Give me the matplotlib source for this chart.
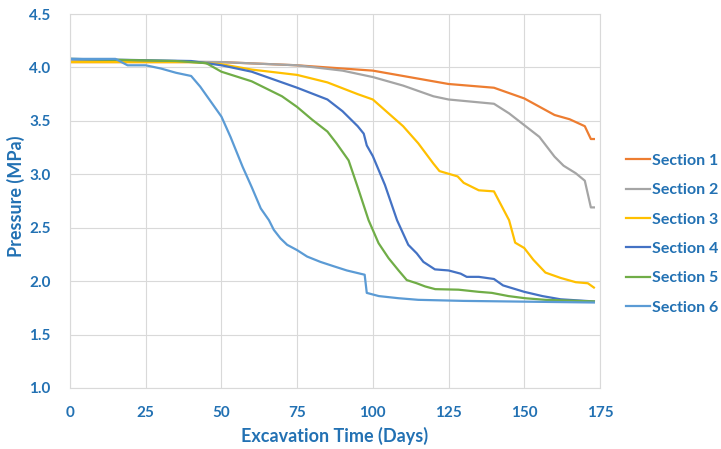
import matplotlib
matplotlib.use('Agg')
import matplotlib.pyplot as plt

# Pore pressure per section over excavation time
section_names = ['Section 1', 'Section 2', 'Section 3', 'Section 4', 'Section 5', 'Section 6']
section_colors = ['#ED7D31', '#A5A5A5', '#FFC000', '#4472C4', '#70AD47', '#5B9BD5']

days_1 = [0, 25, 50, 75, 90, 95, 100, 110, 125, 140, 150, 160, 165, 170, 172, 173]
pres_1 = [4.05, 4.05, 4.05, 4.02, 3.99, 3.98, 3.97, 3.92, 3.845, 3.81, 3.71, 3.555, 3.515, 3.45, 3.33, 3.33]

days_2 = [0, 25, 50, 75, 90, 95, 100, 110, 120, 125, 140, 145, 150, 155, 160, 163, 167, 170, 172, 173]
pres_2 = [4.06, 4.06, 4.05, 4.02, 3.97, 3.94, 3.91, 3.83, 3.73, 3.70, 3.66, 3.57, 3.46, 3.35, 3.165, 3.08, 3.01, 2.94, 2.69, 2.69]

days_3 = [0, 40, 50, 60, 75, 85, 95, 100, 110, 115, 120, 122, 128, 130, 135, 140,
          145, 147, 150, 153, 157, 162, 167, 171, 173]
pres_3 = [4.05, 4.05, 4.03, 3.98, 3.93, 3.86, 3.75, 3.70, 3.45, 3.29, 3.10, 3.03, 2.98, 2.92, 2.85, 2.84,
          2.57, 2.36, 2.31, 2.20, 2.08, 2.03, 1.99, 1.98, 1.94]

days_4 = [0, 40, 50, 60, 75, 85, 90, 95, 97, 98, 100, 104, 108, 111.7, 114.5, 116.7, 120.5, 125,
          129, 131, 135, 140, 143, 150, 156, 162, 173]
pres_4 = [4.08, 4.06, 4.02, 3.96, 3.81, 3.70, 3.59, 3.45, 3.38, 3.27, 3.17, 2.90, 2.57, 2.34, 2.26, 2.18, 2.11, 2.10,
          2.07, 2.04, 2.04, 2.02, 1.96, 1.90, 1.86, 1.83, 1.81]

days_5 = [0, 35, 45, 50, 60, 70, 75, 80, 85, 88, 92, 95, 98.6, 101.9, 105.2, 108.5, 111.2, 114.5,
          117.3, 120.6, 128.3, 134.9, 139.3, 144.8, 150.3, 156.9, 173]
pres_5 = [4.08, 4.06, 4.04, 3.96, 3.87, 3.73, 3.63, 3.51, 3.40, 3.29, 3.13, 2.88, 2.57, 2.355, 2.215, 2.10, 2.01, 1.98,
          1.95, 1.925, 1.92, 1.90, 1.89, 1.86, 1.84, 1.825, 1.81]

days_6 = [0, 15, 19, 25, 30, 35, 40, 43, 47, 50, 53, 57, 60, 63, 65.7, 67.3, 69.5, 71.7, 75, 78.3,
          82.7, 87, 91.4, 95.8, 97.3, 98, 102, 108.5, 115, 130, 173]
pres_6 = [4.08, 4.08, 4.02, 4.02, 3.99, 3.95, 3.92, 3.82, 3.66, 3.54, 3.35, 3.07, 2.88, 2.68, 2.57, 2.48, 2.40, 2.34, 2.29, 2.23,
          2.18, 2.14, 2.10, 2.07, 2.06, 1.89, 1.86, 1.84, 1.825, 1.815, 1.80]

all_days = [days_1, days_2, days_3, days_4, days_5, days_6]
all_pres = [pres_1, pres_2, pres_3, pres_4, pres_5, pres_6]

x_ticks = [0, 25, 50, 75, 100, 125, 150, 175]
y_ticks = [1.0, 1.5, 2.0, 2.5, 3.0, 3.5, 4.0, 4.5]

text_color = '#2271B3'
grid_color = '#D9D9D9'
plt.rcParams['font.family'] = ['Lato', 'DejaVu Sans']

fig = plt.figure(figsize=(7.21, 4.49), dpi=100)
ax = fig.add_axes([0.0971, 0.1359, 0.735, 0.8329])

for d, p, name, c in zip(all_days, all_pres, section_names, section_colors):
    ax.plot(d, p, color=c, linewidth=1.6, label=name)

ax.set_xlim(0, 175)
ax.set_ylim(1.0, 4.5)
ax.set_xticks(x_ticks)
ax.set_yticks(y_ticks)
ax.set_xticklabels([str(t) for t in x_ticks])
ax.set_yticklabels([f'{t:.1f}' for t in y_ticks])
ax.grid(True, color=grid_color, linewidth=0.8)
ax.set_axisbelow(True)
for s in ax.spines.values():
    s.set_color(grid_color)
    s.set_linewidth(0.8)
ax.tick_params(length=0, labelsize=11, labelcolor=text_color)
ax.tick_params(axis='y', pad=14)
ax.tick_params(axis='x', pad=13)
for lbl in ax.get_xticklabels() + ax.get_yticklabels():
    lbl.set_fontweight('bold')

ax.set_xlabel('Excavation Time (Days)', fontsize=13, fontweight='bold', color=text_color)
ax.set_ylabel('Pressure (MPa)', fontsize=13, fontweight='bold', color=text_color)
ax.xaxis.set_label_coords(0.5, -0.105)
ax.yaxis.set_label_coords(-0.085, 0.512)

leg = ax.legend(loc='upper left', bbox_to_anchor=(1.022, 0.665), frameon=False,
                handlelength=1.5, handletextpad=0.1, labelspacing=0.95,
                prop={'weight': 'bold', 'size': 11.5})
for t in leg.get_texts():
    t.set_color(text_color)

fig.savefig('out.png', dpi=100)
